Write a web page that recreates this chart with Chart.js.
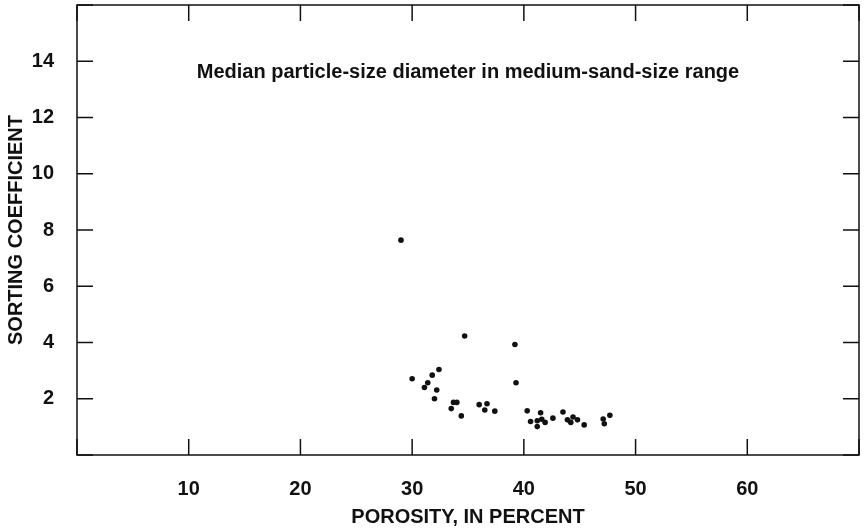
<!DOCTYPE html>
<html>
<head>
<meta charset="utf-8">
<script src="https://cdn.jsdelivr.net/npm/chart.js@4/dist/chart.umd.min.js"></script>
<style>
  body { margin: 0; background: #fff; }
  canvas { display: block; }
</style>
</head>
<body>
<canvas id="myChart" width="865" height="532"></canvas>
<script>
// porosity (percent) and sorting coefficient of each sample
const porosity = [29.0, 34.7, 32.4, 31.8, 30.0, 31.4, 31.1, 32.2, 32.0, 33.7, 34.0, 33.5, 34.4,
    36.0, 36.7, 36.5, 37.4, 39.2, 39.3, 40.3, 41.5, 40.6, 41.2, 41.6, 41.9, 41.2, 42.6,
    43.5, 43.9, 44.4, 44.2, 44.8, 45.4, 47.1, 47.2, 47.7];
const sorting = [7.64, 4.23, 3.04, 2.84, 2.71, 2.57, 2.40, 2.31, 2.00, 1.87, 1.87, 1.65, 1.39,
    1.79, 1.82, 1.60, 1.56, 3.93, 2.57, 1.57, 1.50, 1.19, 1.22, 1.27, 1.16, 1.01, 1.31,
    1.53, 1.25, 1.35, 1.16, 1.25, 1.07, 1.28, 1.11, 1.41];

const xTitle = 'POROSITY, IN PERCENT';
const yTitle = 'SORTING COEFFICIENT';
const noteText = 'Median particle-size diameter in medium-sand-size range';
const noteX = 35;
const noteY = 13.6;

const ink = '#111';
const labelFont = { family: "'Liberation Sans', Arial, sans-serif", size: 20, weight: 'bold' };

// frame with inward tick marks on all four sides, plus the note
const framePlugin = {
    id: 'frame',
    afterDraw(chart) {
        const { ctx, chartArea: a, scales: { x, y } } = chart;
        const len = 16;
        ctx.save();
        ctx.strokeStyle = ink;
        ctx.lineWidth = 1.5;
        ctx.strokeRect(a.left, a.top, a.right - a.left, a.bottom - a.top);
        ctx.beginPath();
        x.ticks.forEach(t => {
            const px = x.getPixelForValue(t.value);
            ctx.moveTo(px, a.bottom); ctx.lineTo(px, a.bottom - len);
            ctx.moveTo(px, a.top); ctx.lineTo(px, a.top + len);
        });
        y.ticks.forEach(t => {
            const py = y.getPixelForValue(t.value);
            ctx.moveTo(a.left, py); ctx.lineTo(a.left + len, py);
            ctx.moveTo(a.right, py); ctx.lineTo(a.right - len, py);
        });
        ctx.stroke();

        ctx.fillStyle = ink;
        ctx.font = `bold ${labelFont.size}px ${labelFont.family}`;
        ctx.textAlign = 'center';
        ctx.textBaseline = 'middle';
        ctx.fillText(noteText, x.getPixelForValue(noteX), y.getPixelForValue(noteY));
        ctx.restore();
    }
};

// fixed axis box sizes, no extra room for half labels
function fixBox(s, key, size) {
    s[key] = size;
    s.paddingTop = 0; s.paddingBottom = 0;
    s.paddingLeft = 0; s.paddingRight = 0;
}

new Chart(document.getElementById('myChart'), {
    type: 'scatter',
    data: {
        datasets: [{
            data: porosity.map((p, i) => ({ x: p, y: sorting[i] })),
            backgroundColor: ink,
            borderColor: ink,
            pointRadius: 2.8,
            pointBorderWidth: 0
        }]
    },
    options: {
        responsive: false,
        devicePixelRatio: 1,
        animation: false,
        layout: { padding: { top: 5, right: 6, left: 0, bottom: 0 } },
        plugins: {
            legend: { display: false },
            tooltip: { enabled: false }
        },
        scales: {
            x: {
                type: 'linear',
                min: 0,
                max: 70,
                afterFit: s => fixBox(s, 'height', 77),
                grid: { display: false },
                border: { display: false },
                ticks: {
                    stepSize: 10,
                    padding: 14,
                    color: ink,
                    font: labelFont,
                    maxRotation: 0,
                    callback: v => (v === 0 || v === 70) ? '' : v
                },
                title: {
                    display: true,
                    text: xTitle,
                    color: ink,
                    font: labelFont,
                    padding: { top: 0, bottom: 3 }
                }
            },
            y: {
                min: 0,
                max: 16,
                afterFit: s => fixBox(s, 'width', 77),
                grid: { display: false },
                border: { display: false },
                ticks: {
                    stepSize: 2,
                    padding: 15,
                    color: ink,
                    font: labelFont,
                    callback: v => (v === 0 || v === 16) ? '' : v
                },
                title: {
                    display: true,
                    text: yTitle,
                    color: ink,
                    font: labelFont,
                    padding: { top: 4, bottom: 0 }
                }
            }
        }
    },
    plugins: [framePlugin]
});
</script>
</body>
</html>
